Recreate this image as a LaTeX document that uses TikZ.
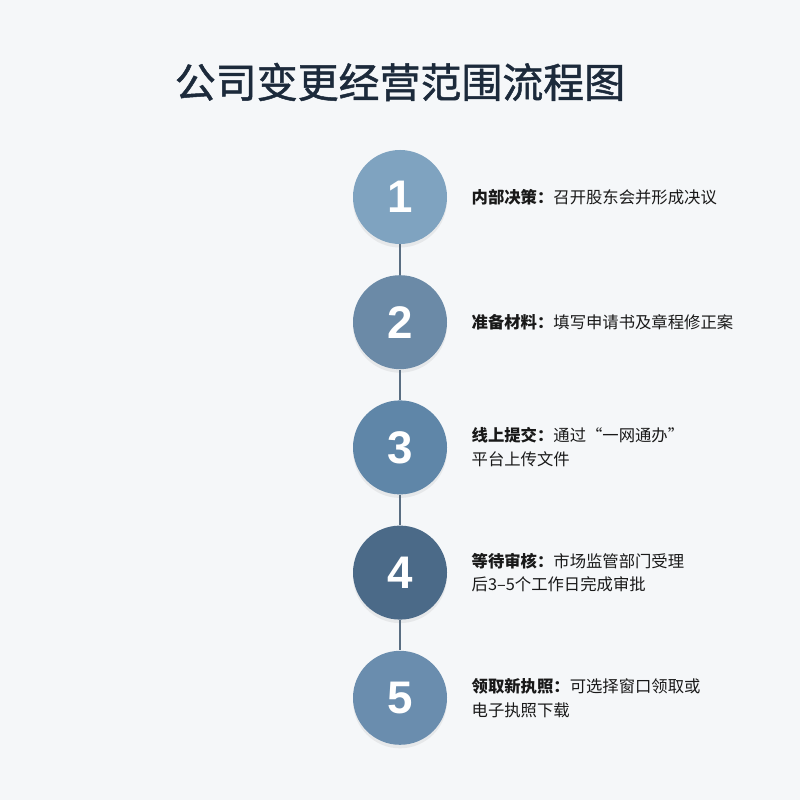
\documentclass[tikz,border=0pt]{standalone}
\usepackage{fontspec}
\newfontfamily\cjk{Noto Sans CJK SC}
\newfontfamily\cjktitle[FakeBold=1.2]{Noto Sans CJK SC}
\newfontfamily\digitfont{Liberation Sans}
\usetikzlibrary{positioning,shadows}
\definecolor{bgcol}{HTML}{F5F7F9}
\definecolor{titlecol}{HTML}{1C2A3B}
\definecolor{linecol}{HTML}{5A6E82}
\definecolor{stepA}{HTML}{7FA3C0}
\definecolor{stepB}{HTML}{6B8AA7}
\definecolor{stepC}{HTML}{5F86A8}
\definecolor{stepD}{HTML}{4B6A88}
\definecolor{stepE}{HTML}{6A8DAE}
\tikzset{
  stepdot/.style={circle, minimum size=1.88cm, inner sep=0pt, text=white,
    font=\digitfont\bfseries\fontsize{26}{26}\selectfont,
    drop shadow={opacity=0.12, shadow xshift=0pt, shadow yshift=-2pt}},
  steptext/.style={right=0.48cm of #1, anchor=west, inner sep=0pt, align=left,
    text=black!90, font=\cjk\fontsize{9.3}{13.6}\selectfont},
  link/.style={draw=linecol, line width=1.1pt}
}

\begin{document}
\begin{tikzpicture}[node distance=0.61cm]
  \fill[bgcol] (0,0) rectangle (16,16);
  \useasboundingbox (0,0) rectangle (16,16);
  \node[font=\cjktitle\fontsize{23.3}{23.3}\selectfont, text=titlecol] (title) at (8,14.36) {公司变更经营范围流程图};

  \node[stepdot, fill=stepA] (s1) at (8,12.06) {1};
  \node[stepdot, fill=stepB, below=of s1] (s2) {2};
  \node[stepdot, fill=stepC, below=of s2] (s3) {3};
  \node[stepdot, fill=stepD, below=of s3] (s4) {4};
  \node[stepdot, fill=stepE, below=of s4] (s5) {5};

  \draw[link] (s1) -- (s2);
  \draw[link] (s2) -- (s3);
  \draw[link] (s3) -- (s4);
  \draw[link] (s4) -- (s5);

  \node[steptext=s1] (t1) {\textbf{内部决策：}召开股东会并形成决议};
  \node[steptext=s2] (t2) {\textbf{准备材料：}填写申请书及章程修正案};
  \node[steptext=s3] (t3) {\textbf{线上提交：}通过“一网通办”\\平台上传文件};
  \node[steptext=s4] (t4) {\textbf{等待审核：}市场监管部门受理\\后3–5个工作日完成审批};
  \node[steptext=s5] (t5) {\textbf{领取新执照：}可选择窗口领取或\\电子执照下载};
\end{tikzpicture}
\end{document}
